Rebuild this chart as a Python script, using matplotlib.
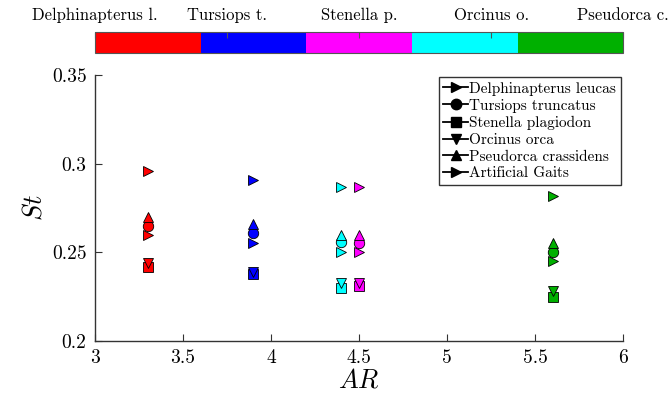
import matplotlib as mpl
import matplotlib.pyplot as plt
import numpy as np

mpl.rcParams['font.family'] = 'serif'
mpl.rcParams['font.serif'] = ['cmr10', 'DejaVu Serif']
mpl.rcParams['mathtext.fontset'] = 'cm'
mpl.rcParams['axes.formatter.use_mathtext'] = True

# species (colour bar order) and their aspect ratio
species = ['Delphinapterus l.', 'Tursiops t.', 'Stenella p.', 'Orcinus o.', 'Pseudorca c.']
species_colors = ['#ff0000', '#0000ff', '#ff00ff', '#00ffff', '#00b000']
ar = [3.3, 3.9, 4.5, 4.4, 5.6]

# Strouhal number per gait (legend entry), one value per species above
gaits = ['Delphinapterus leucas', 'Tursiops truncatus', 'Stenella plagiodon',
         'Orcinus orca', 'Pseudorca crassidens', 'Artificial Gaits']
gait_markers = ['>', 'o', 's', 'v', '^', '>']
st_delph = [0.260, 0.255, 0.250, 0.250, 0.245]
st_turs = [0.265, 0.261, 0.255, 0.256, 0.250]
st_sten = [0.242, 0.238, 0.231, 0.230, 0.225]
st_orc = [0.244, 0.239, 0.233, 0.233, 0.228]
st_pseudo = [0.270, 0.266, 0.260, 0.260, 0.255]
st_artif = [0.296, 0.291, 0.287, 0.287, 0.282]
st_all = [st_delph, st_turs, st_sten, st_orc, st_pseudo, st_artif]

fig = plt.figure(figsize=(6.68, 4.07), dpi=100)
ax = fig.add_axes([0.142, 0.162, 0.791, 0.654])

for g in range(len(gaits)):
    for i in range(len(species)):
        ax.plot(ar[i], st_all[g][i], marker=gait_markers[g], ms=7.5,
                mfc=species_colors[i], mec='k', mew=0.6, ls='none')
    # legend handle
    ax.plot([], [], 'k-', marker=gait_markers[g], ms=7.5, lw=1.3, label=gaits[g])

ax.set_xlim(3, 6)
ax.set_ylim(0.2, 0.35)
ax.set_xticks([3, 3.5, 4, 4.5, 5, 5.5, 6])
ax.set_xticklabels(['3', '3.5', '4', '4.5', '5', '5.5', '6'])
ax.set_yticks([0.2, 0.25, 0.3, 0.35])
ax.set_yticklabels(['0.2', '0.25', '0.3', '0.35'])
ax.tick_params(direction='in', labelsize=14, length=5, color='#333333', pad=6)
ax.spines['top'].set_visible(False)
ax.spines['right'].set_visible(False)
for s in ['left', 'bottom']:
    ax.spines[s].set_color('#333333')
    ax.spines[s].set_linewidth(1.0)
ax.set_xlabel('$AR$', fontsize=19, labelpad=1)
ax.set_ylabel('$St$', fontsize=19, labelpad=4)

leg = ax.legend(loc='upper right', bbox_to_anchor=(1.01, 1.02), fontsize=11,
                handlelength=1.6, handletextpad=0.1, borderpad=0.3,
                labelspacing=0.2, fancybox=False, edgecolor='#333333', framealpha=1)
leg.get_frame().set_linewidth(1.0)

# colour bar on top
cax = fig.add_axes([0.142, 0.870, 0.791, 0.052])
cmap = mpl.colors.ListedColormap(species_colors)
norm = mpl.colors.Normalize(vmin=3, vmax=6)
cb = fig.colorbar(mpl.cm.ScalarMappable(norm=norm, cmap=cmap), cax=cax,
                  orientation='horizontal', ticklocation='top')
cb.set_ticks(np.linspace(3, 6, len(species)))
cb.set_ticklabels(species)
cax.tick_params(direction='in', labelsize=12, length=4, color='#555555', pad=6)
cb.outline.set_edgecolor('#555555')

fig.savefig('out.png', dpi=100)
